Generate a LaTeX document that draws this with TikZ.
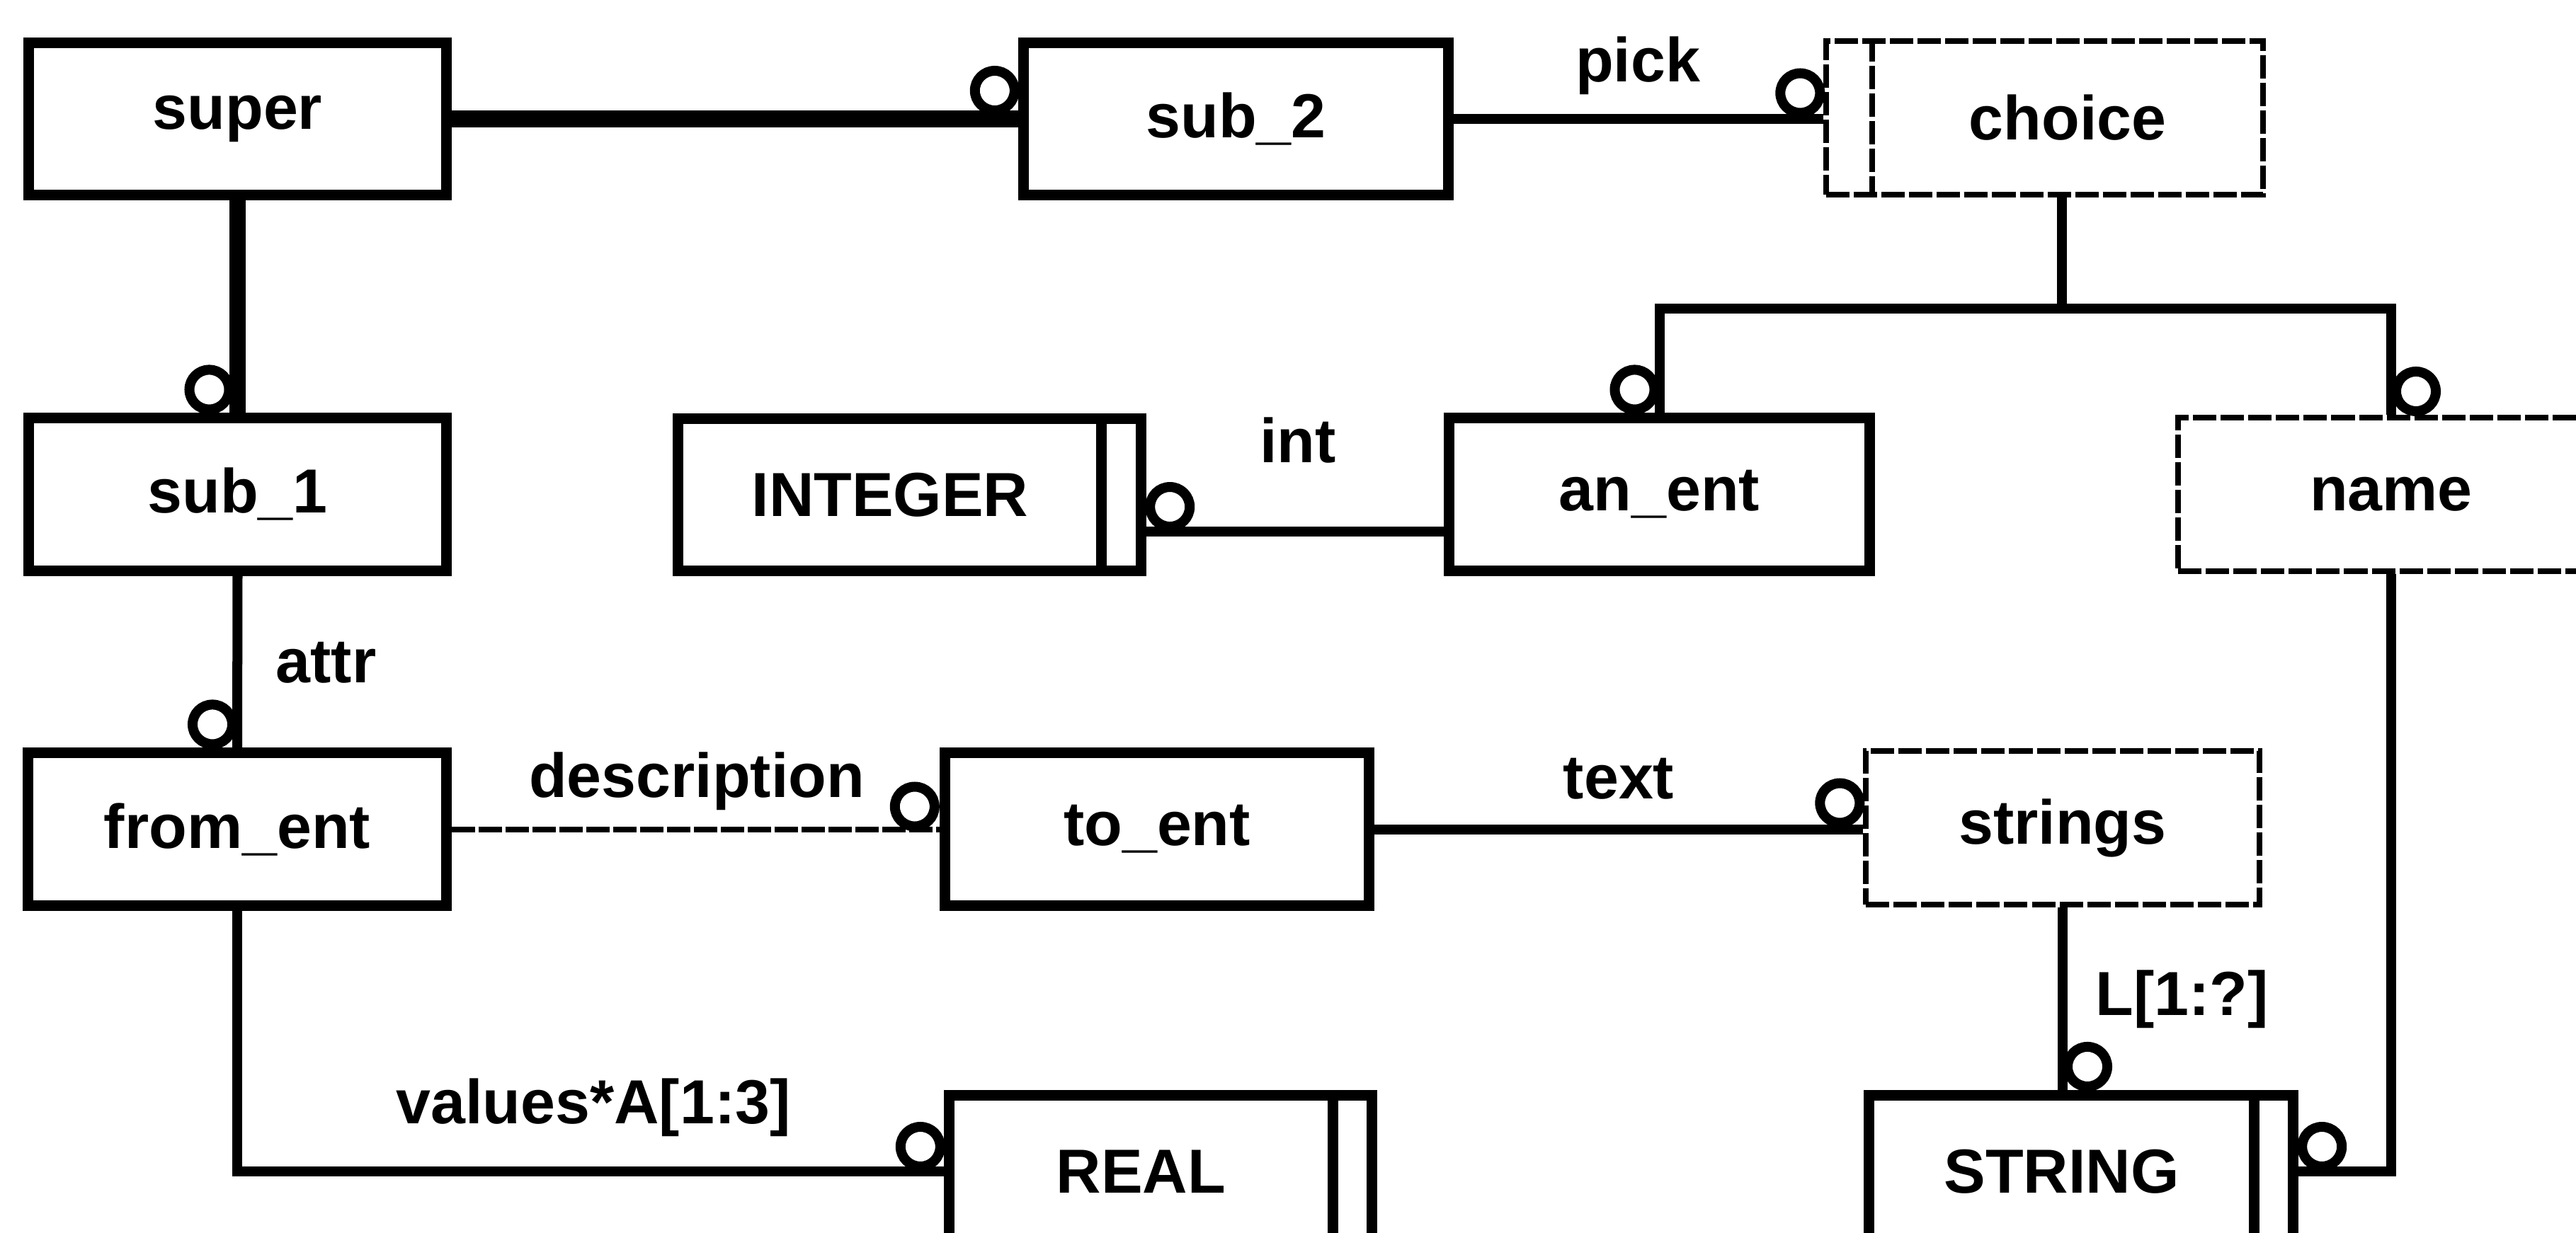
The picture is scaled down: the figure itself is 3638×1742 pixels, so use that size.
\documentclass[tikz,border=0pt]{standalone}
\usepackage{fontspec}
\setmainfont{Liberation Sans}
\usetikzlibrary{calc}
\newcommand{\ringSize}[0]{0.28cm}

\begin{document}
\begin{tikzpicture}[x=0.01cm, y=-0.01cm]
  \tikzset{every node/.style={font=\bfseries\fontsize{25}{30}\selectfont},
    entity/.style={draw, line width=0.15cm, minimum height=2.15cm, inner sep=0pt},
    selbox/.style={draw, line width=0.08cm, dash pattern=on 0.33cm off 0.06cm,
      minimum height=2.17cm, inner sep=0pt},
    conn/.style={line width=0.14cm},
    subtype/.style={line width=0.23cm},
    ring/.style={line width=0.14cm},
    lbl/.style={anchor=base, inner sep=0pt}}
  \useasboundingbox (0,0) rectangle (3638,1742);

  % boxes
  \node[entity, minimum width=5.90cm] (super) at (335.5,168) {super};
  \node[entity, minimum width=6.00cm] (sub2) at (1745.5,168) {sub\_2};
  \node[selbox, minimum width=6.16cm] (choice) at (2887.5,166.5) {\hspace{0.65cm}choice};
  \node[entity, minimum width=5.90cm] (sub1) at (335.5,698.5) {sub\_1};
  \node[entity, minimum width=6.54cm] (integer) at (1284.5,699) {INTEGER\hspace{0.55cm}\mbox{}};
  \node[entity, minimum width=5.94cm] (anEnt) at (2343.5,698.5) {an\_ent};
  \node[selbox, minimum width=6.01cm] (name) at (3377,698.5) {name};
  \node[entity, minimum width=5.90cm] (fromEnt) at (335,1171.5) {from\_ent};
  \node[entity, minimum width=5.99cm] (toEnt) at (1634,1171.5) {to\_ent};
  \node[selbox, minimum width=5.55cm] (strings) at (2913,1169.5) {strings};
  \node[entity, minimum width=5.97cm] (real) at (1639,1655) {REAL\hspace{0.55cm}\mbox{}};
  \node[entity, minimum width=5.99cm] (string) at (2939,1655) {STRING\hspace{0.55cm}\mbox{}};

  % double bars
  \draw[line width=0.15cm] ([xshift=-0.64cm]integer.north east) -- ([xshift=-0.64cm]integer.south east);
  \draw[line width=0.15cm] ([xshift=-0.63cm]real.north east) -- ([xshift=-0.63cm]real.south east);
  \draw[line width=0.15cm] ([xshift=-0.63cm]string.north east) -- ([xshift=-0.63cm]string.south east);
  \draw[line width=0.08cm, dash pattern=on 0.33cm off 0.06cm]
    ([xshift=0.69cm]choice.north west) -- ([xshift=0.69cm]choice.south west);

  % connectors
  \draw[subtype] (super.east) -- (sub2.west);
  \draw[subtype] (super.south) -- (sub1.north);
  \draw[conn] (sub2.east) -- (sub2.east -| choice.west);
  \coordinate (fork) at (2912,436);
  \draw[conn] (fork |- choice.south) -- (fork);
  \draw[conn] (anEnt.north) |- (fork) -| (name.north);
  \draw[conn] ([yshift=-0.525cm]anEnt.west) -- ([yshift=-0.525cm]anEnt.west -| integer.east) coordinate (intEnd);
  \draw[conn] (sub1.south) -- (fromEnt.north);
  \draw[line width=0.08cm, dash pattern=on 0.33cm off 0.05cm] (fromEnt.east) -- (toEnt.west);
  \draw[conn] (toEnt.east) -- (toEnt.east -| strings.west);
  \draw[conn] (strings.south) -- (strings.south |- string.north) coordinate (lenEnd);
  \draw[conn] (name.south) |- (string.east);
  \draw[conn] (fromEnt.south) |- (real.west);

  % rings
  \draw[ring] ($(sub2.west)+(-33,-40)$) circle (\ringSize);
  \draw[ring] ($(choice.west)+(-33,-35)$) circle (\ringSize);
  \draw[ring] ($(sub1.north)+(-40,-33)$) circle (\ringSize);
  \draw[ring] ($(anEnt.north)+(-35,-33)$) circle (\ringSize);
  \draw[ring] ($(name.north)+(35,-33)$) circle (\ringSize);
  \draw[ring] ($(intEnd)+(33,-35)$) circle (\ringSize);
  \draw[ring] ($(fromEnt.north)+(-35,-33)$) circle (\ringSize);
  \draw[ring] ($(toEnt.west)+(-35,-32)$) circle (\ringSize);
  \draw[ring] ($(strings.west)+(-33,-35)$) circle (\ringSize);
  \draw[ring] ($(lenEnd)+(35,-33)$) circle (\ringSize);
  \draw[ring] ($(string.east)+(33,-35)$) circle (\ringSize);
  \draw[ring] ($(real.west)+(-33,-35)$) circle (\ringSize);

  % labels
  \node[lbl] (pickLbl) at (2313,115) {pick};
  \node[lbl] (intLbl) at (1833,653) {int};
  \node[lbl, anchor=base west] (attrLbl) at (389,964) {attr};
  \node[lbl] (descLbl) at (984,1126) {description};
  \node[lbl] (textLbl) at (2286,1128) {text};
  \node[lbl, anchor=base west] (lenLbl) at (2959,1434) {L[1:?]};
  \node[lbl] (valLbl) at (838,1587) {values*A[1:3]};
\end{tikzpicture}
\end{document}
